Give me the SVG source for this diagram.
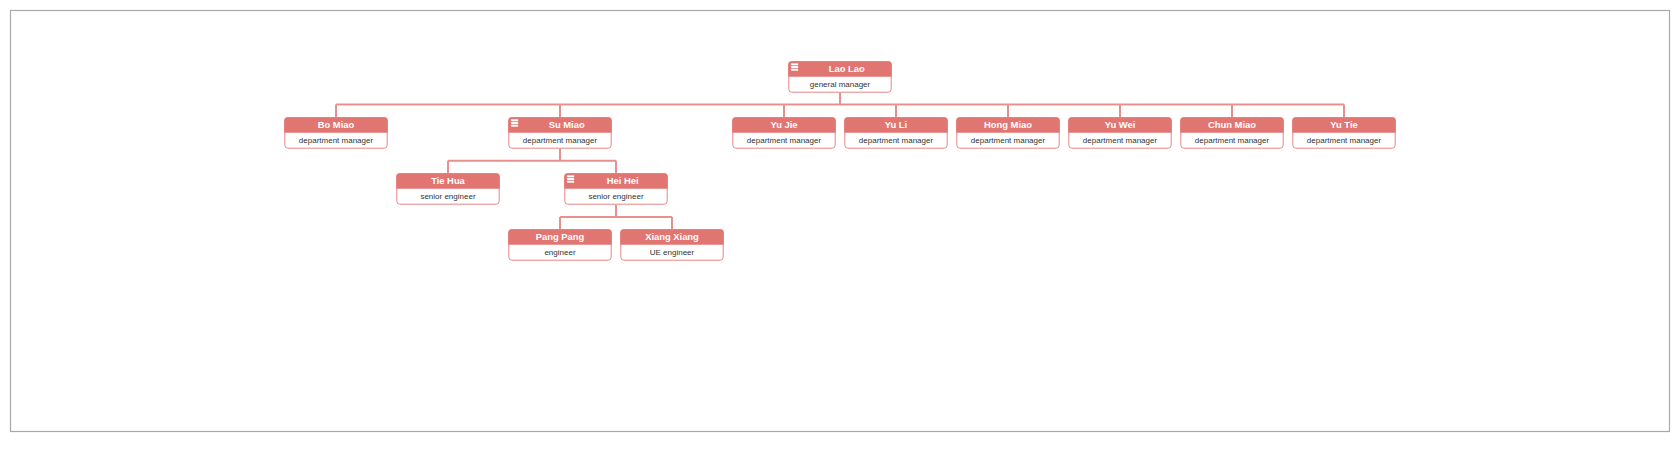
<svg xmlns="http://www.w3.org/2000/svg" width="1680" height="450" viewBox="0 0 1680 450">
<style>
.frame{fill:#fff;stroke:#a8a8a8;stroke-width:1.2}
.box{fill:#fff;stroke:#e58683;stroke-width:1}
.hdr{fill:#e17572}
.name{font-family:"Liberation Sans",Arial,sans-serif;font-weight:bold;font-size:9.4px;fill:#fff;text-anchor:middle}
.sub{font-family:"Liberation Sans",Arial,sans-serif;font-size:8px;fill:#333;text-anchor:middle}
.icon{fill:#fff}
.conn{fill:none;stroke:#e8908e;stroke-width:2}
</style>
<defs>
<g id="card">
<rect class="box" x="0.5" y="0.5" width="102.4" height="30.4" rx="3"/>
<path class="hdr" d="M0,15.4 V3 Q0,0 3,0 H100.4 Q103.4,0 103.4,3 V15.4 Z"/>
</g>
<g id="ico">
<rect class="icon" x="2.8" y="2" width="7" height="2"/>
<rect class="icon" x="2.8" y="4.7" width="7" height="2"/>
<rect class="icon" x="2.8" y="7.4" width="7" height="2"/>
</g>
</defs>
<rect class="frame" x="10.5" y="10.5" width="1659" height="421"/>
<g id="connectors">
<path class="conn" d="M840,92.7 V104.5 M336,104.5 H1344 M336,104.5 V117.3 M560,104.5 V117.3 M784,104.5 V117.3 M896,104.5 V117.3 M1008,104.5 V117.3 M1120,104.5 V117.3 M1232,104.5 V117.3 M1344,104.5 V117.3"/>
<path class="conn" d="M560,148.7 V160.8 M448,160.8 H616 M448,160.8 V173.3 M616,160.8 V173.3"/>
<path class="conn" d="M616,204.7 V217 M560,217 H672 M560,217 V229.3 M672,217 V229.3"/>
</g>
<g id="node-laolao" transform="translate(788.3,61.3)"><use href="#card"/><use href="#ico"/><text class="name" x="58.4" y="11">Lao Lao</text><text class="sub" x="51.7" y="25.3">general manager</text></g>
<g id="node-bomiao" transform="translate(284.3,117.3)"><use href="#card"/><text class="name" x="51.7" y="11">Bo Miao</text><text class="sub" x="51.7" y="25.3">department manager</text></g>
<g id="node-sumiao" transform="translate(508.3,117.3)"><use href="#card"/><use href="#ico"/><text class="name" x="58.4" y="11">Su Miao</text><text class="sub" x="51.7" y="25.3">department manager</text></g>
<g id="node-yujie" transform="translate(732.3,117.3)"><use href="#card"/><text class="name" x="51.7" y="11">Yu Jie</text><text class="sub" x="51.7" y="25.3">department manager</text></g>
<g id="node-yuli" transform="translate(844.3,117.3)"><use href="#card"/><text class="name" x="51.7" y="11">Yu Li</text><text class="sub" x="51.7" y="25.3">department manager</text></g>
<g id="node-hongmiao" transform="translate(956.3,117.3)"><use href="#card"/><text class="name" x="51.7" y="11">Hong Miao</text><text class="sub" x="51.7" y="25.3">department manager</text></g>
<g id="node-yuwei" transform="translate(1068.3,117.3)"><use href="#card"/><text class="name" x="51.7" y="11">Yu Wei</text><text class="sub" x="51.7" y="25.3">department manager</text></g>
<g id="node-chunmiao" transform="translate(1180.3,117.3)"><use href="#card"/><text class="name" x="51.7" y="11">Chun Miao</text><text class="sub" x="51.7" y="25.3">department manager</text></g>
<g id="node-yutie" transform="translate(1292.3,117.3)"><use href="#card"/><text class="name" x="51.7" y="11">Yu Tie</text><text class="sub" x="51.7" y="25.3">department manager</text></g>
<g id="node-tiehua" transform="translate(396.3,173.3)"><use href="#card"/><text class="name" x="51.7" y="11">Tie Hua</text><text class="sub" x="51.7" y="25.3">senior engineer</text></g>
<g id="node-heihei" transform="translate(564.3,173.3)"><use href="#card"/><use href="#ico"/><text class="name" x="58.4" y="11">Hei Hei</text><text class="sub" x="51.7" y="25.3">senior engineer</text></g>
<g id="node-pangpang" transform="translate(508.3,229.3)"><use href="#card"/><text class="name" x="51.7" y="11">Pang Pang</text><text class="sub" x="51.7" y="25.3">engineer</text></g>
<g id="node-xiangxiang" transform="translate(620.3,229.3)"><use href="#card"/><text class="name" x="51.7" y="11">Xiang Xiang</text><text class="sub" x="51.7" y="25.3">UE engineer</text></g>
</svg>
